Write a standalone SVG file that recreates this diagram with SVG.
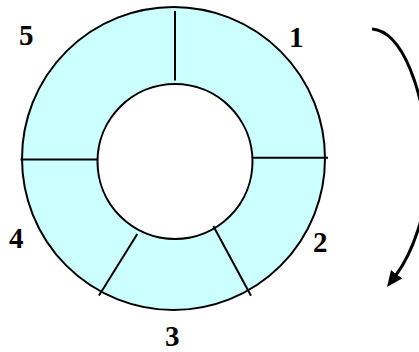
<svg xmlns="http://www.w3.org/2000/svg" width="419" height="352" viewBox="0 0 419 352">
  <style>
    .ring { stroke: #000; stroke-width: 2; }
    .div { stroke: #000; stroke-width: 2; fill: none; }
    .lbl { font-family: "Liberation Serif", "Times New Roman", serif; font-weight: bold; font-size: 29px; fill: #000; }
    .arrow { stroke: #000; stroke-width: 3; fill: none; }
  </style>
  <defs>
    <marker id="head" markerUnits="userSpaceOnUse" markerWidth="16" markerHeight="14" viewBox="0 0 16 14" refX="1" refY="7" orient="auto">
      <path d="M0,0 L16,7 L0,14 Z" fill="#000"/>
    </marker>
  </defs>
  <g id="ring">
    <circle class="ring" cx="173.5" cy="158.5" r="151.5" fill="#CCFFFF"/>
    <circle class="ring" cx="175" cy="161.5" r="77.5" fill="#FFFFFF"/>
    <line class="div" x1="175" y1="11" x2="175" y2="80.5"/>
    <line class="div" x1="252.5" y1="157.7" x2="328" y2="157.7"/>
    <line class="div" x1="20.5" y1="159.5" x2="97.5" y2="159.5"/>
    <line class="div" x1="137.3" y1="234" x2="99" y2="295.5"/>
    <line class="div" x1="213.3" y1="226" x2="251" y2="295.8"/>
  </g>
  <g id="label-1"><text class="lbl" x="289" y="47">1</text></g>
  <g id="label-2"><text class="lbl" x="313" y="252">2</text></g>
  <g id="label-3"><text class="lbl" x="165" y="346">3</text></g>
  <g id="label-4"><text class="lbl" x="9" y="248">4</text></g>
  <g id="label-5"><text class="lbl" x="19" y="45">5</text></g>
  <g id="connectors">
    <path class="arrow" d="M372,29 C402,31 425,90 428,160 C430,210 411,255 396,275" marker-end="url(#head)"/>
  </g>
</svg>
